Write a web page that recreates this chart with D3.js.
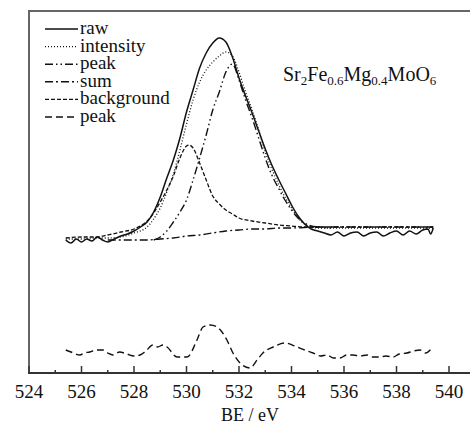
<!DOCTYPE html>
<meta charset="utf-8">
<title>XPS O1s</title>
<style>
body { margin: 0; background: #fff; }
svg { display: block; }
.curve { fill: none; stroke: #111; }
svg text { font-family: "Liberation Serif", "DejaVu Serif", serif; }
</style>
<body>
<svg width="470" height="426"></svg>
<script src="https://d3js.org/d3.v7.min.js"></script>
<script>

// binding energy (eV) and intensity (a.u.)
var rawE = [525.4,525.6,525.8,526.0,526.2,526.4,526.6,526.8,527.0,527.25,527.5,527.75,528.0,528.25,528.5,528.75,529.0,529.25,529.5,529.75,530.0,530.25,530.5,530.75,531.0,531.25,531.5,531.75,532.0,532.25,532.5,532.75,533.0,533.25,533.5,533.75,534.0,534.25,534.5,534.75,535.0,535.25,535.5,535.75,536.0,536.25,536.5,536.75,537.0,537.25,537.5,537.75,538.0,538.25,538.5,538.75,539.0,539.2,539.3,539.4];
var rawI = [133,130,134,131,134,132,136,133,131,134,137,139,142,146,151,161,176,195,213,235,261,283,305,320,330,335,331,316,295,277,260,242,224,208,194,181,168,157,149,144,142,140,138,141,137,140,141,137,140,141,137,140,142,138,142,139,143,144,139,145];

var intE = [525.4,526.0,526.5,527.0,527.5,528.0,528.5,528.75,529.0,529.25,529.5,529.75,530.0,530.25,530.5,530.75,531.0,531.25,531.5,531.75,532.0,532.25,532.5,532.75,533.0,533.25,533.5,533.75,534.0,534.25,534.5,534.75,535.0,536.0,537.0,538.0,539.4];
var intI = [134,134,135,135,136,140,146,154,165,181,199,223,249,273,291,303,311,317,321,317,301,281,263,243,221,204,189,176,165,155,149,146,145,145,145,145,145];

var peak1E = [528.75,529.0,529.25,529.5,529.75,530.0,530.25,530.5,530.75,531.0,531.25,531.5,531.75,532.0,532.25,532.5,532.75,533.0,533.25,533.5,533.75,534.0,534.25,534.5,534.75,535.0,535.5];
var peak1I = [133,136,142,151,161,173,193,215,238,263,281,301,309,293,273,255,235,215,198,185,173,163,155,150,147,146,145];

var sumE = [527.0,528.0,528.5,529.0,529.5,530.0,530.5,531.0,531.5,532.0,532.5,533.0,533.5,534.0,535.0,536.0,537.0,538.0,539.4];
var sumI = [133,133,133,134,135,137,138,140,142,143,144,144,145,145,146,146,146,146,146];

var bgE = [525.4,526.0,526.5,527.0,527.5,528.0,528.5,528.75,529.0,529.25,529.5,529.75,530.0,530.1,530.25,530.5,530.75,531.0,531.25,531.5,531.75,532.0,532.5,533.0,533.5,534.0,534.5,535.0,536.0,537.0,538.0,539.4];
var bgI = [135,136,136,138,141,144,152,160,171,183,197,215,227,228,225,210,193,177,169,163,159,155,152,150,148,147,146,146,146,146,146,146];

var peak2E = [525.4,525.6,525.94,526.1,526.32,526.55,526.82,527.0,527.2,527.45,527.73,528.0,528.23,528.45,528.72,528.9,529.1,529.26,529.64,530.02,530.4,530.63,530.9,531.16,531.54,531.77,532.04,532.42,532.69,532.91,533.3,533.75,534.21,534.5,534.82,535.1,535.35,535.6,535.85,536.1,536.34,536.6,536.88,537.1,537.37,537.6,537.87,538.1,538.4,538.65,538.9,539.1,539.35];
var peak2I = [23,21,18,20,21,23,23,20,18,21,19,17,18,22,28,26,28,26,16,16,33,46,48,46,33,20,10,5,13,20,26,30,26,23,20,17,18,15,15,18,18,17,18,16,16,17,16,19,20,22,23,20,25];

var xTicks = [524,526,528,530,532,534,536,538,540];
var legendNames = ["raw","intensity","peak","sum","background","peak"];
var dashes = [null, "1,2", "8,3,1.5,3,1.5,3", "8,3,2,3", "4,2", "7,4"];

var serif = "Liberation Serif";
var svg = d3.select("svg");
var x = d3.scaleLinear().domain([524, 540]).range([29, 449]);
var y = d3.scaleLinear().domain([0, 362]).range([373, 11]);

// frame
svg.append("line").attr("x1", 28).attr("x2", 470).attr("y1", 11).attr("y2", 11)
   .attr("stroke", "#666").attr("stroke-width", 2);
svg.append("line").attr("x1", 29).attr("x2", 29).attr("y1", 11).attr("y2", 373)
   .attr("stroke", "#666").attr("stroke-width", 2);

// x axis with inward ticks
var ax = svg.append("g").attr("transform", "translate(0,373)");
ax.append("line").attr("x1", 28).attr("x2", 470).attr("stroke", "#333").attr("stroke-width", 2);
ax.selectAll(".maj").data(xTicks).enter().append("line")
  .attr("x1", d => x(d)).attr("x2", d => x(d)).attr("y1", 0).attr("y2", -7)
  .attr("stroke", "#333").attr("stroke-width", 1.5);
ax.selectAll(".min").data(d3.range(525, 540, 2)).enter().append("line")
  .attr("x1", d => x(d)).attr("x2", d => x(d)).attr("y1", 0).attr("y2", -3)
  .attr("stroke", "#333").attr("stroke-width", 1.5);
ax.selectAll("text").data(xTicks).enter().append("text")
  .attr("x", d => x(d)).attr("y", 25).attr("text-anchor", "middle")
  .attr("font-family", serif).attr("font-size", 19).attr("fill", "#111").text(d => d);
svg.append("text").attr("x", 250).attr("y", 421).attr("text-anchor", "middle")
   .attr("font-family", serif).attr("font-size", 18).attr("fill", "#111").text("BE / eV");

// curves
var line = d3.line().curve(d3.curveMonotoneX).x(d => x(d[0])).y(d => y(d[1]));
var series = [
  [rawE, rawI, 0, 1.5],
  [intE, intI, 1, 1.3],
  [peak1E, peak1I, 2, 1.4],
  [sumE, sumI, 3, 1.3],
  [bgE, bgI, 4, 1.3],
  [peak2E, peak2I, 5, 1.4]
];
series.forEach(function(s) {
  svg.append("path").attr("class", "curve")
    .attr("d", line(d3.zip(s[0], s[1])))
    .attr("stroke-width", s[3])
    .attr("stroke-dasharray", dashes[s[2]]);
});

// legend
var lg = svg.append("g");
legendNames.forEach(function(n, i) {
  var ly = 29 + i * 17.6;
  lg.append("line").attr("x1", 45).attr("x2", 78).attr("y1", ly).attr("y2", ly)
    .attr("stroke", "#111").attr("stroke-width", 1.4)
    .attr("stroke-dasharray", dashes[i]);
  lg.append("text").attr("x", 80).attr("y", ly + 5)
    .attr("font-family", serif).attr("font-size", 19)
    .attr("fill", "#111").text(n);
});

// compound label
var lab = svg.append("text").attr("x", 283).attr("y", 81)
  .attr("font-family", serif).attr("font-size", 20).attr("fill", "#111");
var parts = [["Sr",0],["2",1],["Fe",0],["0.6",1],["Mg",0],["0.4",1],["MoO",0],["6",1]];
parts.forEach(function(p, i) {
  var t = lab.append("tspan").text(p[0]);
  if (p[1]) t.attr("font-size", 13).attr("dy", 4);
  else if (i > 0) t.attr("dy", -4);
});

</script>
</body>
